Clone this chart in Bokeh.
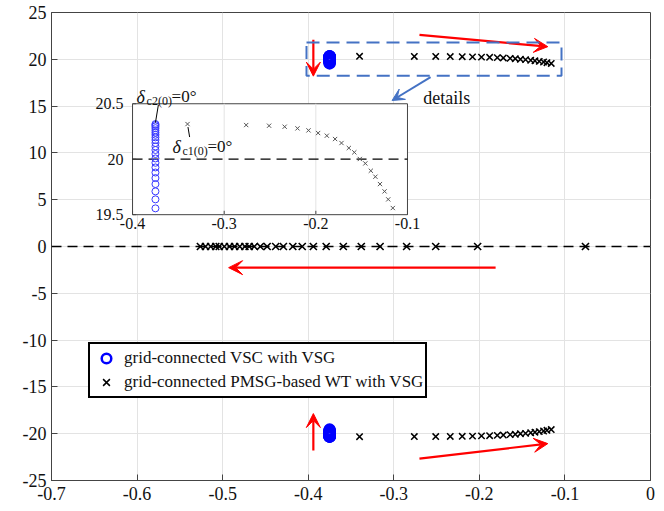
from bokeh.plotting import figure
from bokeh.models import (Range1d, Span, Arrow, VeeHead, BoxAnnotation, Legend,
                          LegendItem, Label, FixedTicker)
from bokeh.core.properties import value
from bokeh.embed import file_html
from bokeh.resources import INLINE

SERIF = "Liberation Serif"

# ---- eigenvalue loci (real part, imaginary part) ----
# grid-connected VSC with VSG: oscillation mode moving down along Re = -0.375
vsc_re = [-0.375] * 22
vsc_im_upper = [19.557, 19.638, 19.710, 19.776, 19.830, 19.880, 19.926, 19.968,
                20.007, 20.047, 20.083, 20.115, 20.146, 20.173, 20.197, 20.220,
                20.240, 20.260, 20.280, 20.296, 20.308, 20.317]
vsc_im_lower = [-19.557, -19.638, -19.710, -19.776, -19.830, -19.880, -19.926, -19.968,
                -20.007, -20.047, -20.083, -20.115, -20.146, -20.173, -20.197, -20.220,
                -20.240, -20.260, -20.280, -20.296, -20.308, -20.317]

# grid-connected PMSG-based WT with VSG: oscillation mode moving right
wt_re = [-0.340, -0.276, -0.251, -0.234, -0.220, -0.208, -0.1975, -0.188, -0.179,
         -0.172, -0.164, -0.158, -0.152, -0.146, -0.140, -0.135, -0.130, -0.125,
         -0.121, -0.116]
wt_im_upper = [20.317, 20.308, 20.302, 20.293, 20.278, 20.260, 20.236, 20.212, 20.182,
               20.146, 20.101, 20.062, 20.002, 19.962, 19.896, 19.842, 19.776, 19.710,
               19.638, 19.560]
wt_im_lower = [-20.317, -20.308, -20.302, -20.293, -20.278, -20.260, -20.236, -20.212, -20.182,
               -20.146, -20.101, -20.062, -20.002, -19.962, -19.896, -19.842, -19.776, -19.710,
               -19.638, -19.560]

# real-axis mode of the WT system moving left
wt_real_re = [-0.076, -0.202, -0.251, -0.285, -0.316, -0.338, -0.359, -0.379, -0.394,
              -0.407, -0.418, -0.429, -0.438, -0.448, -0.456, -0.463, -0.469, -0.474,
              -0.480, -0.486, -0.492, -0.498, -0.504, -0.508, -0.514, -0.520, -0.526]
wt_real_im = [0.0] * 27

x_ticks = [-0.7, -0.6, -0.5, -0.4, -0.3, -0.2, -0.1, 0.0]
x_labels = ["-0.7", "-0.6", "-0.5", "-0.4", "-0.3", "-0.2", "-0.1", "0"]
y_ticks = [-25, -20, -15, -10, -5, 0, 5, 10, 15, 20, 25]
y_labels = ["-25", "-20", "-15", "-10", "-5", "0", "5", "10", "15", "20", "25"]

# zoomed view
inset_xlim = (-0.4, -0.1)
inset_ylim = (19.5, 20.5)
inset_x_ticks = [-0.4, -0.3, -0.2, -0.1]
inset_x_labels = ["-0.4", "-0.3", "-0.2", "-0.1"]
inset_y_ticks = [19.5, 20.0, 20.5]
inset_y_labels = ["19.5", "20", "20.5"]

p = figure(frame_width=599, frame_height=468,
           x_range=Range1d(-0.7, 0), y_range=Range1d(-25, 25),
           output_backend="svg", toolbar_location=None,
           min_border_left=51, min_border_right=14, min_border_top=12, min_border_bottom=31)
p.background_fill_color = "white"
p.border_fill_color = "white"
p.outline_line_color = "#444444"
p.outline_line_width = 1

for ax in (p.xaxis[0], p.yaxis[0]):
    ax.major_label_text_font = SERIF
    ax.major_label_text_font_size = "18px"
    ax.major_label_text_color = "#111111"
    ax.axis_line_color = "#444444"
    ax.major_tick_line_color = "#444444"
    ax.major_tick_in = 6
    ax.major_tick_out = 0
    ax.minor_tick_line_color = None
p.xaxis.major_label_standoff = 6
p.yaxis.major_label_standoff = 5
p.xaxis.ticker = FixedTicker(ticks=x_ticks)
p.yaxis.ticker = FixedTicker(ticks=y_ticks)
p.xaxis.major_label_overrides = dict(zip(x_ticks, x_labels))
p.yaxis.major_label_overrides = dict(zip(y_ticks, y_labels))
p.grid.grid_line_color = "#e3e3e3"
p.grid.grid_line_width = 1

p.add_layout(Span(location=0, dimension="width", line_color="black",
                  line_width=1.4, line_dash="10 6"))

# main loci
r_vsc = p.scatter(vsc_re, vsc_im_upper, marker="circle", size=10, fill_color=None,
                  line_color="#0000ff", line_width=2.5)
p.scatter(vsc_re, vsc_im_lower, marker="circle", size=10, fill_color=None,
          line_color="#0000ff", line_width=2.5)
r_wt = p.scatter(wt_re, wt_im_upper, marker="x", size=9, line_color="black", line_width=1.5)
p.scatter(wt_re, wt_im_lower, marker="x", size=9, line_color="black", line_width=1.5)
p.scatter(wt_real_re, wt_real_im, marker="x", size=10, line_color="black", line_width=1.6)

# direction arrows
red = "#ff0000"
def red_arrow(x0, y0, x1, y1):
    p.add_layout(Arrow(end=VeeHead(size=14, fill_color=red, line_color=red),
                       x_start=x0, y_start=y0, x_end=x1, y_end=y1,
                       line_color=red, line_width=2.2))

red_arrow(-0.270, 22.6, -0.120, 21.35)
red_arrow(-0.394, 22.1, -0.394, 18.2)
red_arrow(-0.181, -2.26, -0.493, -2.26)
red_arrow(-0.394, -21.8, -0.394, -17.85)
red_arrow(-0.270, -22.66, -0.120, -21.06)

# highlighted region and pointer to the zoomed view
blue = "#4472c4"
p.add_layout(BoxAnnotation(left=-0.402, right=-0.104, bottom=18.24, top=21.79,
                           fill_alpha=0, line_color=blue, line_alpha=1, line_width=2,
                           line_dash="13 7"))
p.add_layout(Arrow(end=VeeHead(size=12, fill_color=blue, line_color=blue),
                   x_start=-0.257, y_start=18.1, x_end=-0.302, y_end=15.6,
                   line_color=blue, line_width=2))
p.add_layout(Label(x=-0.2655, y=15.9, text="details", text_font=SERIF,
                   text_font_size="18px", text_baseline="middle", text_color="#111111"))

# ---- zoomed view drawn in its own coordinate system ----
ins = p.subplot(x_source=Range1d(*inset_xlim), y_source=Range1d(*inset_ylim),
                x_target=Range1d(-0.6053, -0.2840), y_target=Range1d(3.40, 15.25))

ins.quad(left=[inset_xlim[0]], right=[inset_xlim[1]], bottom=[inset_ylim[0]],
         top=[inset_ylim[1]], fill_color="white", line_color="#444444", line_width=1)
ins.segment(x0=inset_x_ticks[1:3], x1=inset_x_ticks[1:3], y0=[inset_ylim[0]] * 2,
            y1=[inset_ylim[1]] * 2, line_color="#e3e3e3", line_width=1)
ins.segment(x0=[inset_xlim[0]], x1=[inset_xlim[1]], y0=[20.0], y1=[20.0],
            line_color="black", line_width=1.3, line_dash="10 6")
# ticks
ins.segment(x0=inset_x_ticks, x1=inset_x_ticks, y0=[inset_ylim[0]] * 4,
            y1=[inset_ylim[0] + 0.035] * 4, line_color="#444444", line_width=1)
ins.segment(x0=[inset_xlim[0]] * 3, x1=[inset_xlim[0] + 0.004] * 3, y0=inset_y_ticks,
            y1=inset_y_ticks, line_color="#444444", line_width=1)
ins.text(x=inset_x_ticks, y=[inset_ylim[0]] * 4, text=inset_x_labels, y_offset=3,
         text_align="center", text_baseline="top", text_font=value(SERIF),
         text_font_size="16px", text_color="#111111")
ins.text(x=[inset_xlim[0]] * 3, y=inset_y_ticks, text=inset_y_labels, x_offset=-9,
         text_align="right", text_baseline="middle", text_font=value(SERIF),
         text_font_size="16px", text_color="#111111")

ins.scatter(vsc_re, vsc_im_upper, marker="circle", size=7, fill_color=None,
            line_color="#3b3bff", line_width=1)
ins.scatter(wt_re, wt_im_upper, marker="x", size=6, line_color="#555555", line_width=1)

# initial-point annotations
ins.segment(x0=[-0.375], x1=[-0.3718], y0=[20.33], y1=[20.49], line_color="black", line_width=1)
ins.segment(x0=[-0.3395], x1=[-0.3377], y0=[20.29], y1=[20.20], line_color="black", line_width=1)

def delta_label(x, y, sub):
    ins.text(x=[x], y=[y], text=["δ"], text_font=value(SERIF), text_font_style="italic",
             text_font_size="18px", text_baseline="alphabetic", text_color="#111111")
    ins.text(x=[x], y=[y], text=[sub], x_offset=10, y_offset=4, text_font=value(SERIF),
             text_font_size="12px", text_baseline="alphabetic", text_color="#111111")
    ins.text(x=[x], y=[y], text=["=0°"], x_offset=35, text_font=value(SERIF),
             text_font_size="17px", text_baseline="alphabetic", text_color="#111111")

delta_label(-0.3956, 20.565, "c2(0)")
delta_label(-0.3564, 20.113, "c1(0)")

legend = Legend(items=[LegendItem(label="grid-connected VSC with VSG", renderers=[r_vsc]),
                       LegendItem(label="grid-connected PMSG-based WT with VSG", renderers=[r_wt])],
                location=(37, 82))
legend.label_text_font = SERIF
legend.label_text_font_size = "17px"
legend.label_text_color = "#111111"
legend.border_line_color = "black"
legend.border_line_alpha = 1
legend.border_line_width = 2
legend.background_fill_color = "white"
legend.background_fill_alpha = 1
legend.glyph_width = 28
legend.glyph_height = 24
legend.label_standoff = 4
legend.label_height = 24
legend.spacing = 0
legend.padding = 2
legend.margin = 0
p.add_layout(legend, "center")

open("out.html", "w").write(file_html(p, INLINE))
